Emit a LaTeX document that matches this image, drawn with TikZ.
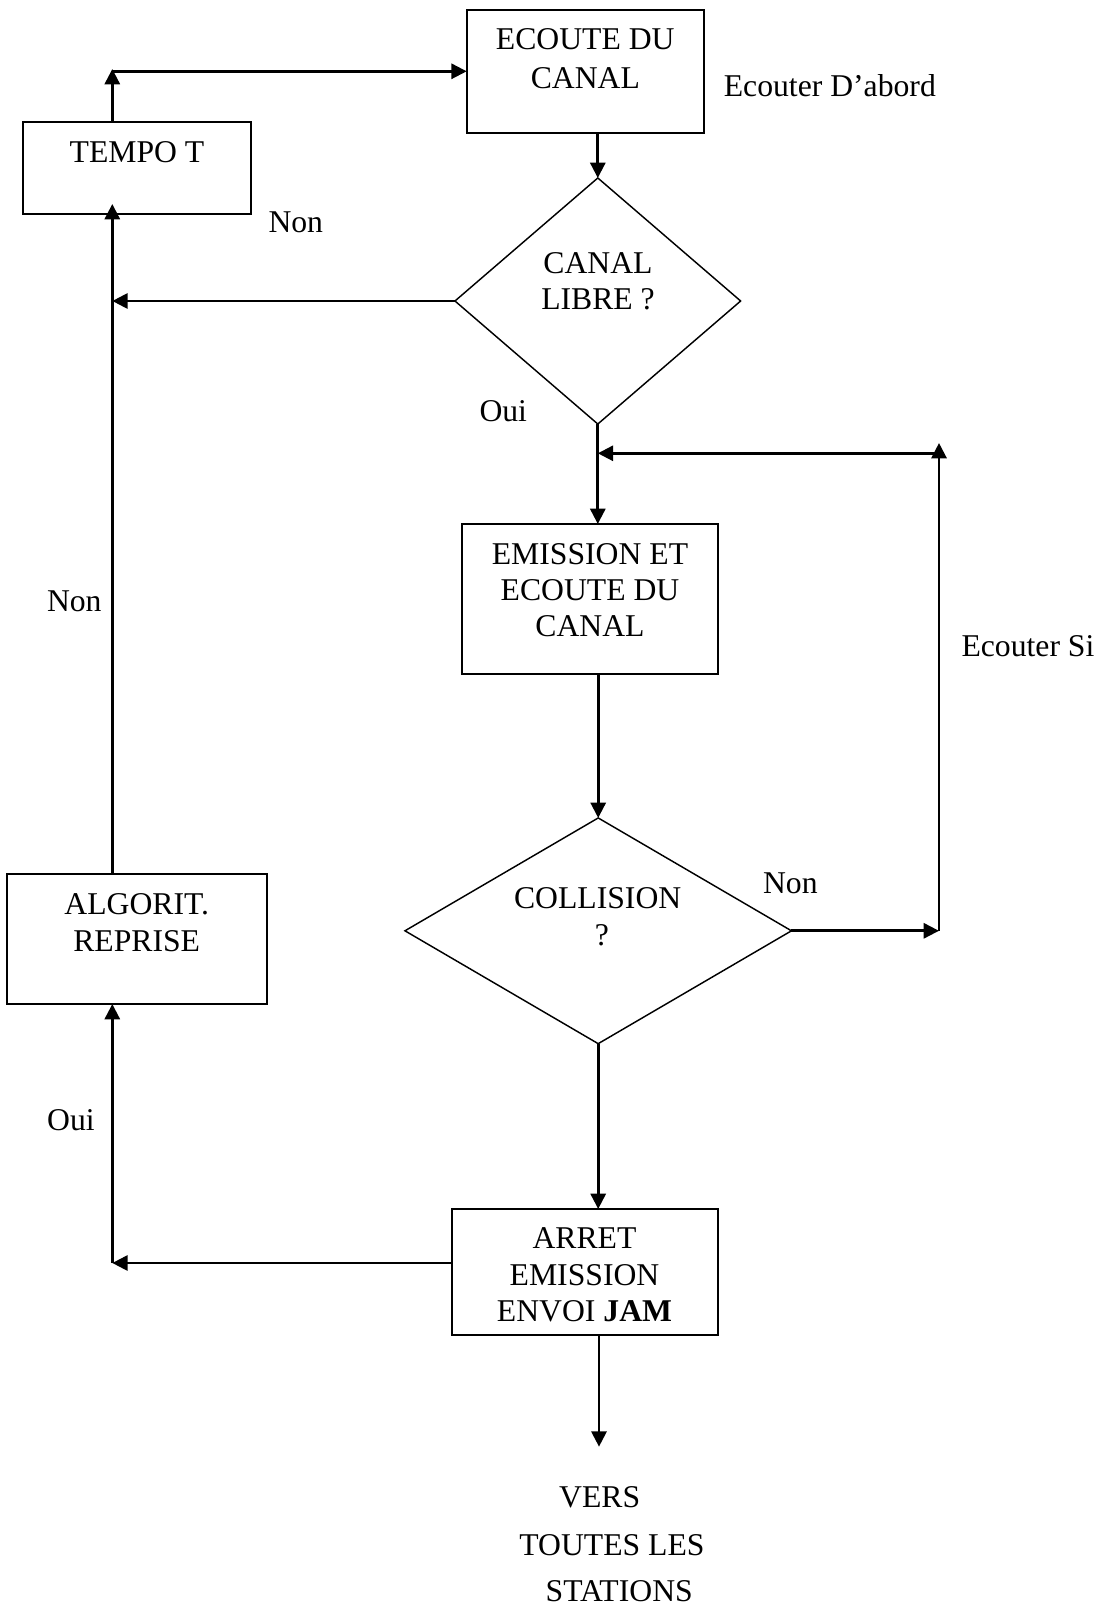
\documentclass[tikz,border=0pt]{standalone}
\usepackage{fontspec}
\setmainfont{Liberation Serif}
\usetikzlibrary{arrows.meta,shapes.geometric,fit}
\begin{document}
\begin{tikzpicture}[x=0.37879pt,y=-0.37879pt,
  box/.style={draw,rectangle,line width=0.75pt,inner sep=0pt,outer sep=0pt},
  decision/.style={draw,diamond,line width=0.55pt,inner sep=0pt,outer sep=0pt},
  conn/.style={line width=1.05pt,-{Triangle[length=5.8pt,width=5.7pt]}},
  txt/.style={inner sep=0pt,anchor=base,font=\fontsize{12}{14}\selectfont},
  txtl/.style={txt,anchor=base west}]
\useasboundingbox (0,0) rectangle (1100,1607);

% process boxes
\node[box,fit={(466.7,10) (704.3,132.7)}] (ecoute) {};
\node[box,fit={(22.7,122.3) (250.7,213.7)}] (tempo) {};
\node[box,fit={(462.3,524) (717.7,673.7)}] (emission) {};
\node[box,fit={(6.7,874.3) (266.7,1004)}] (algo) {};
\node[box,fit={(451.7,1209) (717.7,1334.7)}] (arret) {};

% decisions
\node[decision,minimum width=108.2pt,minimum height=93.2pt] (libre) at (597.8,301) {};
\node[decision,minimum width=146.4pt,minimum height=85.5pt] (coll) at (598.2,930.8) {};

% texts inside the shapes
\node[txt] (e1) at (585.3,49.3) {ECOUTE DU};
\node[txt] (e2) at (585.3,88.3) {CANAL};
\node[txt] (t1) at (137,163) {TEMPO T};
\node[txt] (l1) at (598,274) {CANAL};
\node[txt] (l2) at (598,309.3) {LIBRE ?};
\node[txt] (m1) at (590,564) {EMISSION ET};
\node[txt] (m2) at (590,600) {ECOUTE DU};
\node[txt] (m3) at (590,636.7) {CANAL};
\node[txt] (c1) at (597.7,908.3) {COLLISION};
\node[txt] (c2) at (601.8,945) {?};
\node[txt] (a1) at (136.7,914.3) {ALGORIT.};
\node[txt] (a2) at (136.7,951) {REPRISE};
\node[txt] (r1) at (584.5,1248.3) {ARRET};
\node[txt] (r2) at (584.5,1285) {EMISSION};
\node[txt] (r3) at (584.5,1321.7) {ENVOI \textbf{JAM}};

% free labels
\node[txtl] (lab1) at (723.3,96.7) {Ecouter D’abord};
\node[txtl] (lab2) at (268,233) {Non};
\node[txtl] (lab3) at (479,421.7) {Oui};
\node[txtl] (lab4) at (961,656.7) {Ecouter Si};
\node[txtl] (lab5) at (46.5,611) {Non};
\node[txtl] (lab6) at (762.5,893) {Non};
\node[txtl] (lab7) at (46.7,1130) {Oui};
\node[txt] (v1) at (599.7,1507.3) {VERS};
\node[txt] (v2) at (612,1555) {TOUTES LES};
\node[txt] (v3) at (619.2,1601.7) {STATIONS};

% routing points
\coordinate (lx) at (112.3,0);
\coordinate (rx) at (939,0);
\coordinate (topL) at (112.3,71.3);
\coordinate (topTip) at (112.3,69);
\coordinate (tempoIn) at (112.3,204);
\coordinate (rTop) at (939,443);
\coordinate (rJoin) at (939,453.3);
\coordinate (bl) at (112.3,1263);
\coordinate (out) at (599,1446.7);

% connectors
\draw[conn] (tempo.north -| lx) -- (topTip);
\draw[conn] (topL) -- (topL -| ecoute.west);
\draw[conn] (ecoute.south -| libre.north) -- (libre.north);
\draw[conn] (libre.west) -- (libre.west -| lx);
\draw[conn] (algo.north -| lx) -- (tempoIn);
\draw[conn] (libre.south) -- (libre.south |- emission.north);
\draw[conn] (emission.south -| coll.north) -- (coll.north);
\draw[conn] (coll.east) -- (coll.east -| rx);
\draw[conn] (coll.east -| rx) -- (rTop);
\draw[conn] (rJoin) -- (rJoin -| libre.south);
\draw[conn] (coll.south) -- (coll.south |- arret.north);
\draw[conn] (bl -| arret.west) -- (bl);
\draw[conn] (bl) -- (algo.south -| lx);
\draw[conn] (arret.south -| out) -- (out);
\end{tikzpicture}
\end{document}
